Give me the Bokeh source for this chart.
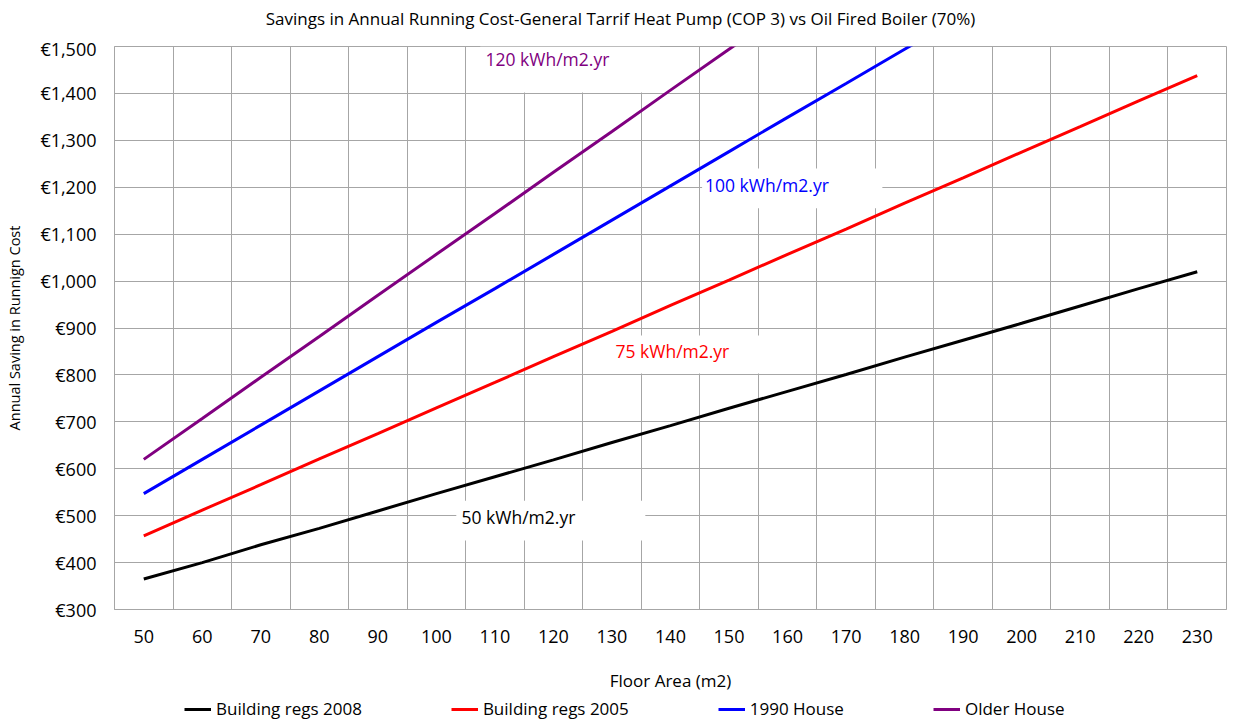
from bokeh.plotting import figure
from bokeh.layouts import column
from bokeh.models import FixedTicker, Legend, LegendItem, Label, BoxAnnotation
from bokeh.embed import file_html
from bokeh.resources import INLINE

floor_area = [50, 60, 70, 80, 90, 100, 110, 120, 130, 140, 150, 160, 170, 180, 190, 200, 210, 220, 230]
regs_2008 = [365, 400, 438, 473, 510, 547, 583, 619, 656, 692, 729, 765, 801, 838, 874, 910, 947, 984, 1020]
regs_2005 = [457, 512, 566, 621, 675, 730, 784, 839, 893, 948, 1002, 1057, 1111, 1166, 1220, 1275, 1329, 1384, 1438]
house_1990 = [547, 620, 693, 766, 839, 912, 984, 1057, 1130, 1203, 1276, 1349, 1421, 1494, 1567, 1640, 1713, 1785, 1858]
older_house = [620, 707, 795, 882, 970, 1057, 1144, 1232, 1319, 1407, 1494, 1581, 1669, 1756, 1843, 1931, 2018, 2106, 2193]

series_names = ["Building regs 2008", "Building regs 2005", "1990 House", "Older House"]
series_colors = ["#000000", "#ff0000", "#0000ff", "#800080"]
all_series = [regs_2008, regs_2005, house_1990, older_house]

y_ticks = [300, 400, 500, 600, 700, 800, 900, 1000, 1100, 1200, 1300, 1400, 1500]
y_tick_labels = ["€300", "€400", "€500", "€600", "€700", "€800", "€900", "€1,000",
                 "€1,100", "€1,200", "€1,300", "€1,400", "€1,500"]
x_grid = [45, 55, 65, 75, 85, 95, 105, 115, 125, 135, 145, 155, 165, 175, 185, 195, 205, 215, 225, 235]

FONT = "Open Sans"
GRID = "#a6a6a6"

# top strip with the chart title (frame is aligned with the main plot's frame)
p0 = figure(width=1233, height=36, x_range=(0, 1112), y_range=(0, 36),
            output_backend="svg", toolbar_location=None,
            min_border_left=0, min_border_right=0, min_border_top=0, min_border_bottom=0)
p0.axis.visible = False
p0.grid.visible = False
p0.outline_line_color = None
p0.add_layout(Label(x=506, y=18, text="Savings in Annual Running Cost-General Tarrif Heat Pump (COP 3) vs Oil Fired Boiler (70%)",
                    text_font=FONT, text_font_size="17px", text_color="#000000",
                    text_align="center", text_baseline="middle"))

p = figure(frame_width=1112, frame_height=563, x_range=(45, 235), y_range=(300, 1500),
           output_backend="svg", toolbar_location=None,
           min_border_left=114, min_border_top=10, min_border_bottom=60, min_border_right=7)

p.outline_line_color = GRID
p.outline_line_width = 1

p.xaxis.ticker = FixedTicker(ticks=floor_area)
p.yaxis.ticker = FixedTicker(ticks=y_ticks)
p.yaxis.major_label_overrides = {t: l for t, l in zip(y_ticks, y_tick_labels)}
p.xgrid.ticker = FixedTicker(ticks=x_grid)
p.ygrid.ticker = FixedTicker(ticks=y_ticks)
for g in (p.xgrid, p.ygrid):
    g.grid_line_color = GRID
    g.grid_line_width = 1

for ax in (p.xaxis, p.yaxis):
    ax.axis_line_color = GRID
    ax.major_tick_line_color = None
    ax.minor_tick_line_color = None
    ax.major_label_text_font = FONT
    ax.major_label_text_font_size = "18px"
    ax.major_label_text_color = "#000000"
    ax.axis_label_text_font = FONT
    ax.axis_label_text_font_style = "normal"
    ax.axis_label_text_color = "#000000"

p.xaxis.major_label_standoff = 14
p.yaxis.major_label_standoff = 12
p.yaxis.axis_label = "Annual Saving in Runnign Cost"
p.yaxis.axis_label_text_font_size = "14.5px"
p.yaxis.axis_label_standoff = 13

# white label boxes (behind lines, above grid)
boxes = [
    (107.5, 138.2, 1500, 1402),
    (145.4, 176.2, 1240, 1155),
    (129.7, 159.3, 884, 803),
    (103.4, 135.7, 532, 447),
]
for l, r, t, b in boxes:
    p.add_layout(BoxAnnotation(left=l, right=r, top=t, bottom=b, fill_color="white",
                               fill_alpha=1, line_alpha=0, level="underlay"))

for data, c in zip(all_series, series_colors):
    p.line(floor_area, data, line_color=c, line_width=3)

labels = [
    (108.4, 1474, "120 kWh/m2.yr", "#800080"),
    (145.9, 1204, "100 kWh/m2.yr", "#0000ff"),
    (130.6, 852, "75 kWh/m2.yr", "#ff0000"),
    (104.3, 498, "50 kWh/m2.yr", "#000000"),
]
for x, y, t, c in labels:
    p.add_layout(Label(x=x, y=y, text=t, text_color=c, text_font=FONT,
                       text_font_size="17.5px", text_baseline="middle", text_align="left"))

# bottom strip holding the x-axis title and the legend (frame aligned with main plot)
p2 = figure(width=1233, height=54, x_range=(0, 1112), y_range=(0, 54),
            output_backend="svg", toolbar_location=None,
            min_border_left=0, min_border_right=0, min_border_top=0, min_border_bottom=0)
p2.axis.visible = False
p2.grid.visible = False
p2.outline_line_color = None

p2.add_layout(Label(x=556, y=43, text="Floor Area (m2)", text_font=FONT, text_font_size="17px",
                    text_color="#000000", text_align="center", text_baseline="middle"))

# legend keys: the same series, which fall outside this strip's visible range
key_renderers = [p2.line(floor_area, data, line_color=c, line_width=3)
                 for data, c in zip(all_series, series_colors)]
legend = Legend(items=[LegendItem(label=n, renderers=[r]) for n, r in zip(series_names, key_renderers)],
                orientation="horizontal", location=(70, 3), spacing=89,
                glyph_width=27, glyph_height=16, label_standoff=5, padding=0, margin=0,
                border_line_alpha=0, background_fill_alpha=0,
                label_text_font=FONT, label_text_font_size="17px", label_text_color="#000000")
p2.add_layout(legend)

layout = column(p0, p, p2, spacing=0)
open("out.html", "w").write(file_html(layout, INLINE))
